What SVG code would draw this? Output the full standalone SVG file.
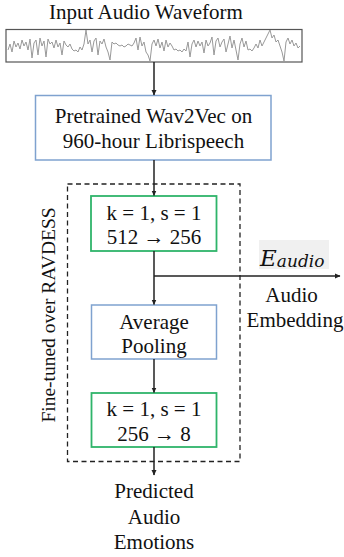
<svg xmlns="http://www.w3.org/2000/svg" width="344" height="557" viewBox="0 0 344 557">
  <style>
    .t { font-family: "Liberation Serif", "Times New Roman", serif; font-size: 21px; fill: #111; text-anchor: middle; }
    .rot { font-size: 19.5px; }
    .blue { fill: #fff; stroke: #7fa2cf; stroke-width: 1.5; }
    .green { fill: #fff; stroke: #2fb46a; stroke-width: 1.8; }
    .conn { fill: none; stroke: #222; stroke-width: 1.5; }
  </style>
  <defs>
    <marker id="arrow" markerWidth="6" markerHeight="6" refX="5" refY="3" orient="auto" markerUnits="userSpaceOnUse">
      <path d="M0,0.5 L5.5,3 L0,5.5 Z" fill="#222"/>
    </marker>
  </defs>
  <rect width="344" height="557" fill="#fff"/>

  <!-- input waveform -->
  <g id="waveform">
    <text class="t" x="146" y="19">Input Audio Waveform</text>
    <rect x="6" y="29.5" width="296" height="32.5" fill="#fff" stroke="#555" stroke-width="1.2"/>
    <polyline fill="none" stroke="#999" stroke-width="1" points="8,50 10,44 12,52 14,41 16,47 18,43 20,49 22,40 24,46 26,42 28,50 30,39 32,58 34,43 36,40 38,55 40,38 42,46 44,41 46,57 48,39 50,44 52,42 54,48 56,40 58,47 60,43 62,55 64,41 66,45 68,47 70,44 72,49 74,51 76,50 78,52 80,47 82,50 84,44 86,30 88,44 90,40 92,52 94,41 96,38 98,55 100,41 102,44 104,39 106,47 108,52 110,60 112,42 114,44 116,43 118,45 120,46 122,45 124,47 126,46 128,44 130,45 132,46 134,43 136,38 138,50 140,37 142,46 144,42 146,52 148,55 150,61 152,44 154,40 156,46 158,39 160,48 162,42 164,51 166,40 168,47 170,43 172,46 174,50 176,49 178,51 180,50 182,52 184,49 186,51 188,42 190,57 192,44 194,40 196,47 198,41 200,46 202,42 204,53 206,40 208,46 210,43 212,37 214,55 216,41 218,38 220,47 222,42 224,39 226,52 228,44 230,36 232,48 234,40 236,50 238,60 240,44 242,38 244,47 246,41 248,50 250,49 252,51 254,48 256,44 258,48 260,40 262,46 264,42 266,38 268,34 270,30 272,38 274,35 276,42 278,40 280,46 282,52 284,61 286,42 288,38 290,44 292,40 294,46 296,43 298,48 300,46"/>
  </g>

  <!-- fine-tuning region -->
  <g id="finetune-region">
    <rect x="67.5" y="184" width="172.5" height="277.5" fill="none" stroke="#222" stroke-width="1.3" stroke-dasharray="5,3.5"/>
    <text class="t rot" transform="translate(55,315) rotate(-90)">Fine-tuned over RAVDESS</text>
  </g>

  <g id="wav2vec">
    <rect class="blue" x="35.5" y="95.5" width="235.5" height="64.5"/>
    <text class="t" x="153.5" y="122.5">Pretrained Wav2Vec on</text>
    <text class="t" x="153.5" y="148">960-hour Librispeech</text>
  </g>

  <g id="conv1">
    <rect class="green" x="91" y="196" width="125.5" height="55"/>
    <text class="t" x="154" y="220">k = 1, s = 1</text>
    <text class="t" x="154" y="244">512 → 256</text>
  </g>

  <g id="pooling">
    <rect class="blue" x="91.5" y="305" width="125" height="54"/>
    <text class="t" x="154" y="329">Average</text>
    <text class="t" x="154" y="353">Pooling</text>
  </g>

  <g id="conv2">
    <rect class="green" x="91.5" y="393" width="125" height="54"/>
    <text class="t" x="154" y="416">k = 1, s = 1</text>
    <text class="t" x="154" y="440.5">256 → 8</text>
  </g>

  <g id="embedding-label">
    <rect x="259" y="240" width="70" height="29" fill="#f0f0f0"/>
    <text x="260" y="266" font-family="'DejaVu Serif', 'Liberation Serif', serif" font-style="italic" font-size="23" fill="#111">E<tspan font-size="17" dy="1">audio</tspan></text>
    <text class="t" x="291.5" y="302">Audio</text>
    <text class="t" x="295" y="327">Embedding</text>
  </g>

  <g id="output">
    <text class="t" x="154" y="498">Predicted</text>
    <text class="t" x="154" y="524">Audio</text>
    <text class="t" x="154" y="549">Emotions</text>
  </g>

  <!-- connectors -->
  <g id="connectors">
    <line class="conn" x1="154" y1="62" x2="154" y2="95" marker-end="url(#arrow)"/>
    <line class="conn" x1="154" y1="160" x2="154" y2="195.5" marker-end="url(#arrow)"/>
    <line class="conn" x1="154" y1="251" x2="154" y2="304.5" marker-end="url(#arrow)"/>
    <line class="conn" x1="154" y1="276" x2="340" y2="276" marker-end="url(#arrow)"/>
    <line class="conn" x1="154" y1="359" x2="154" y2="392.5" marker-end="url(#arrow)"/>
    <line class="conn" x1="154" y1="447" x2="154" y2="475" marker-end="url(#arrow)"/>
  </g>
</svg>
